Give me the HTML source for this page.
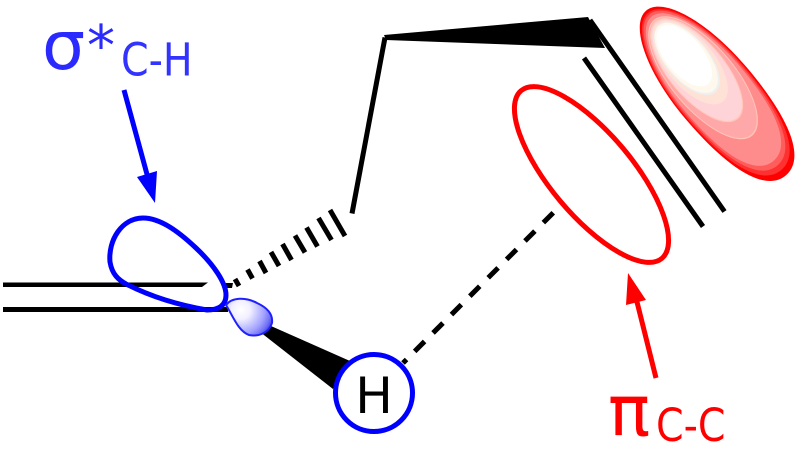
<!DOCTYPE html>
<html><head><meta charset="utf-8"><style>html,body{margin:0;padding:0;background:#fff}svg{display:block}</style></head><body>
<svg width="800" height="459" viewBox="0 0 800 459" xmlns="http://www.w3.org/2000/svg">
<defs>
<radialGradient id="lg" gradientUnits="userSpaceOnUse" cx="241" cy="310" r="33">
<stop offset="0" stop-color="#fff"/><stop offset=".28" stop-color="#f2f0ff"/><stop offset=".5" stop-color="#c8c8ff"/><stop offset=".72" stop-color="#a0a0ff"/><stop offset=".9" stop-color="#7272f4"/><stop offset="1" stop-color="#4a4af0"/>
</radialGradient>
</defs>

<!-- red filled orbital -->
<g transform="rotate(49.7 716 93)">
<path transform="translate(716 93)" d="M-108,0 C-108,-22 -60,-40 0,-40 C68,-40 108,-26 108,0 C108,26 68,40 0,40 C-60,40 -108,22 -108,0 Z" fill="#ff0000"/>
<path transform="translate(714 93)" d="M-103,0 C-103,-21 -57,-38.500 0,-38.500 C65,-38.500 103,-25 103,0 C103,25 65,38.500 0,38.500 C-57,38.500 -103,21 -103,0 Z" fill="#ff3030"/>
<path transform="translate(712 93)" d="M-99,0 C-99,-20 -55,-37 0,-37 C62,-37 99,-24 99,0 C99,24 62,37 0,37 C-55,37 -99,20 -99,0 Z" fill="#ff5c5c"/>
<path transform="translate(710.500 93)" d="M-94.500,0 C-94.500,-19 -52,-35.500 0,-35.500 C59,-35.500 94.500,-23 94.500,0 C94.500,23 59,35.500 0,35.500 C-52,35.500 -94.500,19 -94.500,0 Z" fill="#ff8c8c"/>
<ellipse cx="696" cy="93" rx="76" ry="32" fill="#ffc4b4"/>
<ellipse cx="696" cy="93" rx="74.500" ry="31" fill="#ffa8aa"/>
<ellipse cx="686" cy="93" rx="64" ry="28" fill="#ffc8b8"/>
<ellipse cx="686" cy="93" rx="62.500" ry="27" fill="#ffd4d8"/>
<ellipse cx="676" cy="93" rx="51" ry="24" fill="#ffe2d6"/>
<ellipse cx="671" cy="93" rx="44" ry="21.500" fill="#eef0f0"/>
<ellipse cx="670" cy="93" rx="42.500" ry="20.500" fill="#fff8ec"/>
<ellipse cx="667" cy="93" rx="37" ry="18.500" fill="#ffffff"/>
</g>

<!-- skeleton -->
<polygon points="3,282.500 208,282.500 202,287 3,287" fill="#000"/>
<polygon points="3,307 228,307 228,312 3,312" fill="#000"/>
<polygon points="225,283 233,283 232,288 225,288" fill="#000"/>
<polygon points="228,307 350,361 333,389" fill="#000"/>
<g stroke="#000" stroke-width="5" fill="none">
<line x1="235" y1="279" x2="239" y2="286"/>
<line x1="247.500" y1="269.500" x2="252.500" y2="278.500"/>
<line x1="259.500" y1="261" x2="266" y2="273"/>
<line x1="271" y1="252" x2="279" y2="266"/>
<line x1="282.500" y1="244" x2="291.500" y2="260"/>
<line x1="295" y1="235.500" x2="305" y2="252.500"/>
<line x1="306.500" y1="227.500" x2="317.500" y2="246.500"/>
<line x1="318.500" y1="218" x2="331.500" y2="240"/>
<line x1="330" y1="210" x2="345" y2="236"/>
<polyline points="352,213.500 385,37.500" stroke-linejoin="miter"/>
<line x1="590" y1="20" x2="724.500" y2="211.500"/>
<line x1="584" y1="58" x2="703" y2="226.500"/>
<line x1="403" y1="363" x2="558" y2="208" stroke-dasharray="5 11.500 14 12 14 12 14 12 14 12 14 12 14 12 14 12 14 12" />
</g>
<polygon points="384,35 588,17 605,48 386,40" fill="#000"/>

<!-- red open orbital -->
<ellipse cx="591.500" cy="174.500" rx="109.500" ry="41" transform="rotate(50 591.500 174.500)" fill="none" stroke="#ff0000" stroke-width="5"/>

<!-- blue orbital lobes -->
<path d="M143,218 C122,218 108,240 110,262 C112,274 118,280 128,285 C150,296 178,305 207,310 C218,310 226,306 226,295 C226,283 214,265 196,248 C178,231 160,218 143,218 Z" fill="none" stroke="#0000ff" stroke-width="5"/>
<path d="M226,305 C232,297 246,297 257,303 C268,308 273,315 272,323 C269,333 258,337 249,335 C238,331 233,316 226,305 Z" fill="url(#lg)" stroke="#2020ff" stroke-width="2"/>

<!-- H -->
<circle cx="374" cy="393" r="38.500" fill="#fff" stroke="#0000ff" stroke-width="5"/>
<text x="374" y="413" font-family="'DejaVu Sans',sans-serif" font-size="50" text-anchor="middle" fill="#000">H</text>

<!-- blue label + arrow -->
<text x="42" y="69" font-family="'DejaVu Sans',sans-serif" font-size="68" fill="#2a2aff">σ</text>
<text x="87" y="65" font-family="'DejaVu Sans',sans-serif" font-size="56" fill="#2a2aff">*</text>
<text transform="translate(121 75.500) scale(.88 1)" font-family="'DejaVu Sans',sans-serif" font-size="45" fill="#3333ff">C-H</text>
<line x1="124" y1="90" x2="148" y2="178" stroke="#0000ff" stroke-width="5"/>
<polygon points="155,203 137,177 157,171" fill="#0000ff"/>

<!-- red label + arrow -->
<text x="608" y="435" font-family="'DejaVu Sans',sans-serif" font-size="70" fill="#ff0000">π</text>
<text transform="translate(656 441) scale(.88 1)" font-family="'DejaVu Sans',sans-serif" font-size="45" fill="#ff0000">C-C</text>
<line x1="656" y1="378" x2="636" y2="298" stroke="#ff0000" stroke-width="5"/>
<polygon points="628,273 646,300 626,305" fill="#ff0000"/>
</svg>
</body></html>
